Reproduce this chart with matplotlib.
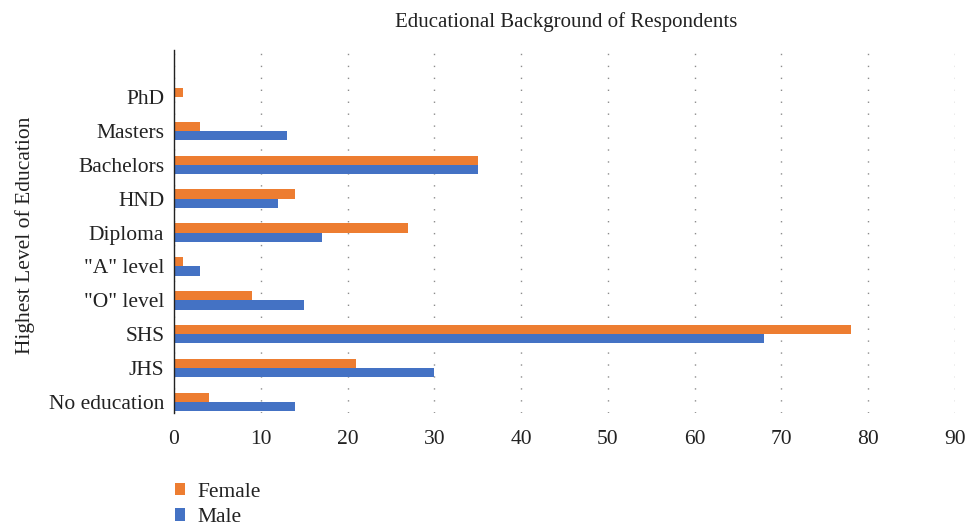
import matplotlib.pyplot as plt
import numpy as np

# Educational background data
levels = ["No education", "JHS", "SHS", "\"O\" level", "\"A\" level",
          "Diploma", "HND", "Bachelors", "Masters", "PhD"]
female = [4, 21, 78, 9, 1, 27, 14, 35, 3, 1]
male = [14, 30, 68, 15, 3, 17, 12, 35, 13, 0]

plt.rcParams['font.family'] = ['Liberation Serif', 'DejaVu Serif']

fig = plt.figure(figsize=(9.68, 5.23), dpi=100)
ax = fig.add_axes([174/968, 1 - 413/523, 781/968, 363/523])

y = np.arange(len(levels))
h = 0.27
ax.barh(y + h/2, female, height=h, color="#ED7D31", label="Female", zorder=3)
ax.barh(y - h/2, male, height=h, color="#4472C4", label="Male", zorder=3)

ax.set_xlim(0, 90)
ax.set_ylim(-0.32, 10.38)
ax.set_xticks(range(0, 91, 10))
ax.set_yticks(y)
ax.set_yticklabels(levels)
ax.tick_params(axis="both", length=0, labelsize=15.5, colors="#222222", pad=7)
ax.tick_params(axis="x", pad=12)

ax.grid(axis="x", color="#8c8c8c", linestyle=(0, (1, 7.6)), linewidth=1, zorder=0)
for s in ["top", "right", "bottom"]:
    ax.spines[s].set_visible(False)
ax.spines["left"].set_color("#222222")
ax.spines["left"].set_linewidth(1)
ax.spines["left"].set_zorder(4)

ax.set_ylabel("Highest Level of Education", fontsize=15.5, color="#222222")
ax.yaxis.set_label_coords(-(174 - 35)/781, 0.49)
fig.text(566/968, 1 - 22/523, "Educational Background of Respondents",
         ha="center", va="center", fontsize=15, color="#222222")

leg = fig.legend(loc="upper left", bbox_to_anchor=(166/968, 1 - 474/523),
                 frameon=False, fontsize=15.5, handlelength=0.5, handleheight=0.5,
                 handletextpad=0.55, labelspacing=0.3, borderaxespad=0)
for t in leg.get_texts():
    t.set_color("#222222")

fig.savefig("out.png", dpi=100)
